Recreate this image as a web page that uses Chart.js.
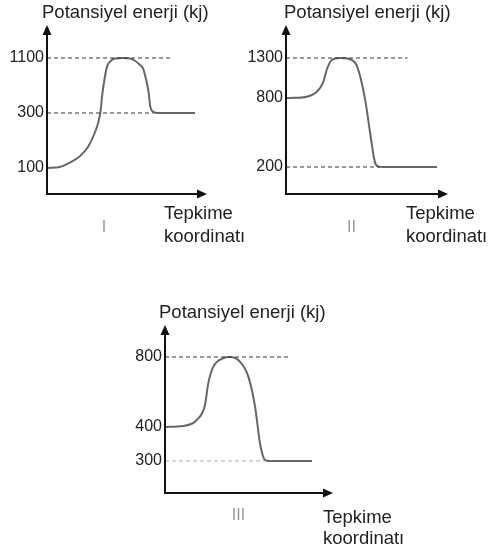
<!DOCTYPE html>
<html lang="tr">
<head>
<meta charset="utf-8">
<title>Potansiyel enerji diyagramları</title>
<script src="https://cdn.jsdelivr.net/npm/chart.js@4"></script>
<style>
  body { margin: 0; background: #fff; }
  #sahne { position: relative; width: 488px; height: 552px; }
  canvas { position: absolute; }
</style>
</head>
<body>
<div id="sahne">
  <canvas id="grafik1" width="244" height="250" style="left:0;top:0"></canvas>
  <canvas id="grafik2" width="244" height="250" style="left:244px;top:0"></canvas>
  <canvas id="grafik3" width="300" height="262" style="left:120px;top:290px"></canvas>
</div>
<script>
// eksen yazilari
var yEkseniAdi = 'Potansiyel enerji (kj)';
var xEkseniAdi = ['Tepkime', 'koordinatı'];
var numaralar = ['I', 'II', 'III'];

// I
var x1 = [0, 8, 16, 21, 26, 30, 32, 33.5, 34.5, 36, 37.5, 39.5, 42.5, 47, 51, 55, 58, 60, 62, 63.5, 64.5, 66, 69, 92.5];
var y1 = [100, 104, 125, 145, 180, 230, 265, 330, 560, 800, 975, 1050, 1094, 1100, 1095, 1060, 1000, 950, 780, 600, 400, 320, 300, 300];
var seviyeler1 = [100, 300, 1100];
var kesikDeger1 = [1100, 300];
var kesikSon1 = [77, 66];

// II
var x2 = [0, 6, 12.8, 19, 22.8, 25.1, 28.2, 33.3, 39.5, 44, 48.8, 51.9, 54.9, 57, 60, 93.2];
var y2 = [800, 803, 816, 879, 988, 1150, 1275, 1300, 1284, 1190, 790, 500, 240, 205, 200, 200];
var seviyeler2 = [200, 800, 1300];
var kesikDeger2 = [1300, 200];
var kesikSon2 = [75, 58];

// III
var x3 = [0, 10.7, 18.9, 23.8, 25.8, 28.8, 34.7, 38.7, 44.6, 49.6, 53.6, 56.5, 58, 59.5, 62, 87.5];
var y3 = [400, 406, 440, 526, 652, 745, 793, 800, 773, 688, 517, 353, 320, 303, 300, 300];
var seviyeler3 = [300, 400, 800];
var kesikDeger3 = [800, 300];
var kesikSon3 = [74.5, 59.5];

// seviyeler esit aralikli degil, cizimdeki gibi parca parca dogrusal olcek
class KademeliOlcek extends Chart.LinearScale {
  _kesir(v) {
    var d = [this.min].concat(this.options.kademeler, [this.max]);
    var k = [0].concat(this.options.konumlar, [1]);
    var i = 1;
    while (i < d.length - 1 && v > d[i]) i++;
    return k[i - 1] + (v - d[i - 1]) / (d[i] - d[i - 1]) * (k[i] - k[i - 1]);
  }
  getPixelForValue(v) {
    if (v === null || v === undefined || isNaN(v)) return NaN;
    return this.getPixelForDecimal(this._kesir(v));
  }
  getValueForPixel(p) {
    var f = this.getDecimalForPixel(p);
    var d = [this.min].concat(this.options.kademeler, [this.max]);
    var k = [0].concat(this.options.konumlar, [1]);
    var i = 1;
    while (i < k.length - 1 && f > k[i]) i++;
    return d[i - 1] + (f - k[i - 1]) / (k[i] - k[i - 1]) * (d[i] - d[i - 1]);
  }
}
KademeliOlcek.id = 'kademeli';
KademeliOlcek.defaults = { ticks: { callback: function (v) { return String(v); } } };

var eksenCizici = {
  id: 'eksenCizici',
  afterDatasetsDraw: function (chart, args, o) {
    var c = chart.ctx, a = chart.chartArea;
    c.save();
    c.strokeStyle = '#111';
    c.fillStyle = '#111';
    c.lineWidth = 2;
    c.beginPath();
    c.moveTo(a.left, a.top + 8);
    c.lineTo(a.left, a.bottom);
    c.lineTo(a.right - 8, a.bottom);
    c.stroke();
    c.beginPath();
    c.moveTo(a.left, a.top);
    c.lineTo(a.left - 4.5, a.top + 10);
    c.lineTo(a.left + 4.5, a.top + 10);
    c.closePath();
    c.fill();
    c.beginPath();
    c.moveTo(a.right, a.bottom);
    c.lineTo(a.right - 10, a.bottom - 4.5);
    c.lineTo(a.right - 10, a.bottom + 4.5);
    c.closePath();
    c.fill();

    c.font = '18.5px "Liberation Sans", Arial, sans-serif';
    c.fillStyle = '#222';
    c.textAlign = 'left';
    c.textBaseline = 'alphabetic';
    c.fillText(yEkseniAdi, o.baslikX, o.baslikY);
    c.fillText(xEkseniAdi[0], o.eksenX, o.eksenY);
    c.fillText(xEkseniAdi[1], o.eksenX, o.eksenY + o.satir);
    c.font = '16px "Liberation Sans", Arial, sans-serif';
    c.fillStyle = '#999';
    c.textAlign = 'center';
    c.fillText(o.numara, o.numaraX, o.numaraY);
    c.restore();
  }
};

Chart.register(KademeliOlcek, eksenCizici);

function kesikler(deger, son, renkler) {
  return deger.map(function (v, i) {
    return {
      data: [{ x: 0, y: v }, { x: son[i], y: v }],
      borderColor: renkler[i],
      borderWidth: 1,
      borderDash: [4, 3],
      pointRadius: 0
    };
  });
}

function ciz(id, xs, ys, seviyeler, ustDeger, konumlar, kesikDeger, kesikSon, kesikRenk, yerlesim, yazi) {
  var egri = xs.map(function (x, i) { return { x: x, y: ys[i] }; });
  new Chart(document.getElementById(id), {
    type: 'line',
    data: {
      datasets: kesikler(kesikDeger, kesikSon, kesikRenk).concat([{
        data: egri,
        borderColor: '#666',
        borderWidth: 2,
        pointRadius: 0,
        cubicInterpolationMode: 'monotone'
      }])
    },
    options: {
      responsive: false,
      animation: false,
      devicePixelRatio: 1,
      layout: { padding: { left: 0, top: yerlesim.ust, right: yerlesim.sag, bottom: yerlesim.alt } },
      plugins: {
        legend: { display: false },
        tooltip: { enabled: false },
        eksenCizici: yazi
      },
      scales: {
        x: { type: 'linear', min: 0, max: 100, display: false },
        y: {
          type: 'kademeli',
          min: 0,
          max: ustDeger,
          kademeler: seviyeler,
          konumlar: konumlar,
          grid: { display: false, drawTicks: false },
          border: { display: false },
          ticks: {
            padding: 3,
            color: '#222',
            font: { family: '"Liberation Sans", Arial, sans-serif', size: 16 }
          },
          afterBuildTicks: function (s) {
            s.ticks = seviyeler.map(function (v) { return { value: v }; });
          },
          afterFit: function (s) { s.width = yerlesim.sol; }
        }
      }
    }
  });
}

ciz('grafik1', x1, y1, seviyeler1, 1600, [0.1538, 0.4793, 0.8047],
  kesikDeger1, kesikSon1, ['#333', '#333'],
  { sol: 47, ust: 25, sag: 37, alt: 56 },
  { baslikX: 42, baslikY: 18, eksenX: 164, eksenY: 219, satir: 23, numara: numaralar[0], numaraX: 104, numaraY: 232 });

ciz('grafik2', x2, y2, seviyeler2, 1700, [0.1598, 0.568, 0.8047],
  kesikDeger2, kesikSon2, ['#333', '#333'],
  { sol: 42, ust: 25, sag: 40, alt: 56 },
  { baslikX: 40, baslikY: 18, eksenX: 162, eksenY: 219, satir: 23, numara: numaralar[1], numaraX: 107.5, numaraY: 232 });

ciz('grafik3', x3, y3, seviyeler3, 1000, [0.1905, 0.3929, 0.8095],
  kesikDeger3, kesikSon3, ['#333', '#aaa'],
  { sol: 45, ust: 35, sag: 87, alt: 59 },
  { baslikX: 39, baslikY: 28, eksenX: 203, eksenY: 233, satir: 21, numara: numaralar[2], numaraX: 118.5, numaraY: 230 });
</script>
</body>
</html>
